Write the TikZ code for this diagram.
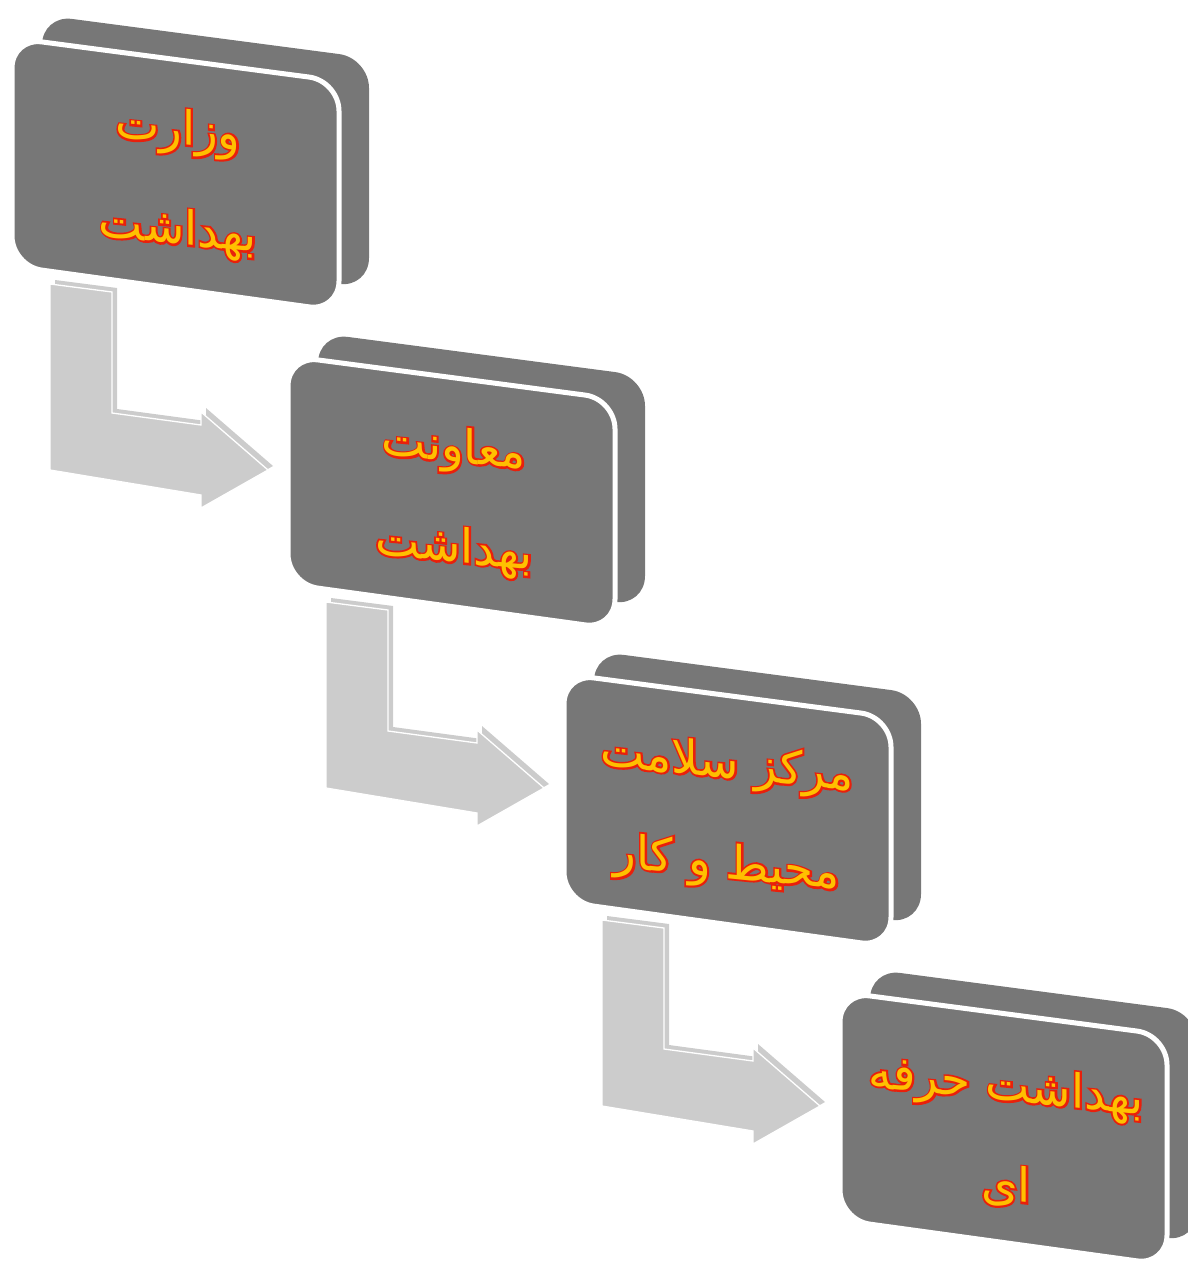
\documentclass[tikz,border=0pt]{standalone}
\usepackage{fontspec}
\newfontfamily\arabicfont[Script=Arabic]{DejaVu Sans}
\newfontfamily\arabicbold[Script=Arabic, FakeBold=8]{DejaVu Sans}
\TeXXeTstate=1
\usetikzlibrary{calc}
\definecolor{boxgray}{HTML}{777777}
\definecolor{arrgray}{HTML}{CCCCCC}
\definecolor{txtfill}{HTML}{FFC000}
\definecolor{txtline}{HTML}{E8200C}

\newcommand\boxat[2]{%
  \fill[boxback] (#1+30,#2-23) -- ++(327,43) -- ++(0,230) -- ++(-327,-45) -- cycle;
  \filldraw[boxfront] (#1,#2) -- ++(327,43) -- ++(0,230) -- ++(-327,-45) -- cycle;
}
\newcommand\arrowat[2]{%
  \fill[arrowback] (#1+55,#2+280) -- (#1+117,#2+288) -- (#1+117,#2+409) -- (#1+206,#2+421)
     -- (#1+206,#2+408) -- (#1+273,#2+466) -- (#1+206,#2+504) -- (#1+206,#2+491) -- (#1+55,#2+466) -- cycle;
  \filldraw[arrowfront] (#1+50,#2+284) -- (#1+112,#2+292) -- (#1+112,#2+413) -- (#1+201,#2+425)
     -- (#1+201,#2+412) -- (#1+268,#2+470) -- (#1+201,#2+508) -- (#1+201,#2+495) -- (#1+50,#2+470) -- cycle;
}

\begin{document}
\begin{tikzpicture}[x=1pt,y=-1pt,
  boxback/.style={fill=boxgray, rounded corners=30pt},
  boxfront/.style={fill=boxgray, draw=white, line width=5pt, rounded corners=30pt},
  arrowback/.style={fill=arrgray},
  arrowfront/.style={fill=arrgray, draw=white, line width=1.3pt},
  lbl/.style={align=center, transform shape, inner sep=0pt},
  lblline/.style={lbl, font=\arabicbold\fontsize{47}{100}\selectfont, text=txtline},
  lbltop/.style={lbl, font=\arabicfont\fontsize{47}{100}\selectfont, text=txtfill}]
\useasboundingbox (0,0) rectangle (1187,1265);

\foreach \k in {0,1,2} {
  \arrowat{276*\k}{318*\k}
}
\foreach \k in {0,1,2,3} {
  \boxat{12+276*\k}{38+318*\k}
}

\begin{scope}[shift={(178,182)}, yslant=-0.1]
  \node[lblline] (t1o) at (0,0) {\beginR وزارت\endR\\\beginR بهداشت\endR};
  \node[lbltop] (t1) at (0,0) {\beginR وزارت\endR\\\beginR بهداشت\endR};
\end{scope}
\begin{scope}[shift={(454,500)}, yslant=-0.1]
  \node[lblline] (t2o) at (0,0) {\beginR معاونت\endR\\\beginR بهداشت\endR};
  \node[lbltop] (t2) at (0,0) {\beginR معاونت\endR\\\beginR بهداشت\endR};
\end{scope}
\begin{scope}[shift={(727,816)}, yslant=-0.1]
  \node[lblline] (t3o) at (0,0) {\beginR مرکز سلامت\endR\\\beginR محیط و کار\endR};
  \node[lbltop] (t3) at (0,0) {\beginR مرکز سلامت\endR\\\beginR محیط و کار\endR};
\end{scope}
\begin{scope}[shift={(1006,1136)}, yslant=-0.1]
  \node[lblline] (t4o) at (0,0) {\beginR بهداشت حرفه\endR\\\beginR ای\endR};
  \node[lbltop] (t4) at (0,0) {\beginR بهداشت حرفه\endR\\\beginR ای\endR};
\end{scope}
\end{tikzpicture}
\end{document}
